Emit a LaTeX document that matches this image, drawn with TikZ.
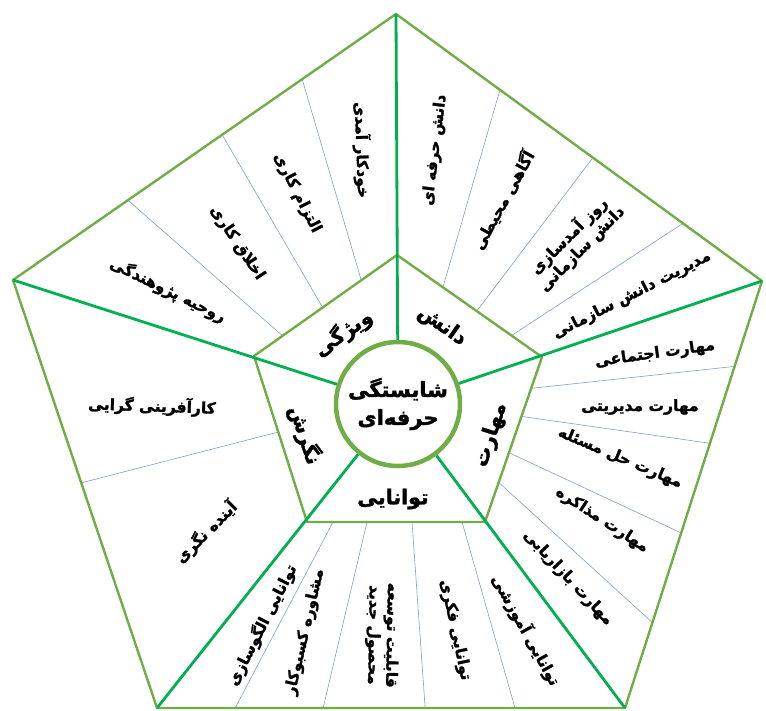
\documentclass[tikz,border=0pt]{standalone}
\usepackage{fontspec}
\usetikzlibrary{calc}
\TeXXeTstate=1
\newfontfamily\fafont[Script=Arabic, BoldFeatures={FakeBold=1.6}]{DejaVu Sans}
\newcommand{\fatext}[1]{\beginR #1\endR}
\definecolor{edgeGreen}{RGB}{112,173,71}
\definecolor{spokeGreen}{RGB}{0,176,80}
\definecolor{divBlue}{RGB}{125,160,205}
\tikzset{
    % Lines
    edge/.style={draw=edgeGreen, line width=2.4pt, line join=round},
    spoke/.style={draw=spokeGreen, line width=2.8pt},
    divider/.style={draw=divBlue, line width=0.6pt},
    % Text
    item/.style={font=\fafont\bfseries\fontsize{15.5}{18}\selectfont, inner sep=1pt, align=center},
    dim/.style={font=\fafont\bfseries\fontsize{20.5}{23}\selectfont, inner sep=1pt},
    core/.style={circle, draw=edgeGreen, line width=4.5pt, minimum size=124pt, inner sep=0pt,
                 align=center, font=\fafont\bfseries\fontsize{21}{28}\selectfont}
}
\begin{document}
\begin{tikzpicture}[x=1pt, y=-1pt]
\useasboundingbox (0,0) rectangle (766,710);

% Outer and inner pentagon corners
\coordinate (T) at (396,14);
\coordinate (R) at (762,281);
\coordinate (BR) at (625,708);
\coordinate (BL) at (157,708);
\coordinate (L) at (13,280);
\coordinate (IT) at (397,255);
\coordinate (IR) at (542,357);
\coordinate (IBR) at (485,522);
\coordinate (IBL) at (307,522);
\coordinate (IL) at (254,356);

% Dividers
\draw[divider] ($(L)!0.30!(T)$) -- ($(IL)!0.20!(IT)$);
\draw[divider] ($(L)!0.546!(T)$) -- ($(IL)!0.48!(IT)$);
\draw[divider] ($(L)!0.755!(T)$) -- ($(IL)!0.75!(IT)$);
\draw[divider] ($(T)!0.284!(R)$) -- ($(IT)!0.317!(IR)$);
\draw[divider] ($(T)!0.538!(R)$) -- ($(IT)!0.55!(IR)$);
\draw[divider] ($(T)!0.784!(R)$) -- ($(IT)!0.79!(IR)$);
\draw[divider] ($(R)!0.20!(BR)$) -- ($(IR)!0.19!(IBR)$);
\draw[divider] ($(R)!0.38!(BR)$) -- ($(IR)!0.36!(IBR)$);
\draw[divider] ($(R)!0.59!(BR)$) -- ($(IR)!0.58!(IBR)$);
\draw[divider] ($(R)!0.80!(BR)$) -- ($(IR)!0.76!(IBR)$);
\draw[divider] ($(BR)!0.235!(BL)$) -- ($(IBR)!0.129!(IBL)$);
\draw[divider] ($(BR)!0.427!(BL)$) -- ($(IBR)!0.41!(IBL)$);
\draw[divider] ($(BR)!0.645!(BL)$) -- ($(IBR)!0.663!(IBL)$);
\draw[divider] ($(BR)!0.833!(BL)$) -- ($(IBR)!0.854!(IBL)$);
\draw[divider] ($(L)!0.474!(BL)$) -- ($(IL)!0.458!(IBL)$);

% Pentagons
\draw[edge] (T) -- (R) -- (BR) -- (BL) -- (L) -- cycle;
\draw[edge] (IT) -- (IR) -- (IBR) -- (IBL) -- (IL) -- cycle;

% Core and spokes
\node[core] (core) at (398,404) {\fatext{شایستگی}\\\fatext{حرفه‌ای}};
\foreach \v in {T,R,BR,BL,L}
    \draw[spoke] (\v) -- (core);

% Dimensions
\node[dim, rotate=35] (trait) at (343,333) {\fatext{ویژگی}};
\node[dim, rotate=-35] (knowledge) at (442,326) {\fatext{دانش}};
\node[dim, rotate=72] (skill) at (491,435) {\fatext{مهارت}};
\node[dim] (ability) at (393,499) {\fatext{توانایی}};
\node[dim, rotate=-72] (attitude) at (305,435) {\fatext{نگرش}};

% Traits
\node[item, rotate=-88] (selfEff) at (362,150) {\fatext{خودکار آمدی}};
\node[item, rotate=-63] (commit) at (297,193) {\fatext{التزام کاری}};
\node[item, rotate=-56] (ethics) at (237,243) {\fatext{اخلاق کاری}};
\node[item, rotate=-26] (research) at (168,290) {\fatext{روحیه پژوهندگی}};

% Knowledge
\node[item, rotate=83] (profKnow) at (435,150) {\fatext{دانش حرفه ای}};
\node[item, rotate=61] (envAware) at (503,200) {\fatext{آگاهی محیطی}};
\node[item, rotate=45] (update) at (575,242) {\fatext{روز آمدسازی}\\\fatext{دانش سازمانی}};
\node[item, rotate=27] (kmgmt) at (632,295) {\fatext{مدیریت دانش سازمانی}};

% Skills
\node[item, rotate=8] (social) at (655,354) {\fatext{مهارت اجتماعی}};
\node[item] (managerial) at (640,407) {\fatext{مهارت مدیریتی}};
\node[item, rotate=-23] (problem) at (620,458) {\fatext{مهارت حل مسئله}};
\node[item, rotate=-33] (negot) at (602,520) {\fatext{مهارت مذاکره}};
\node[item, rotate=-47] (market) at (568,578) {\fatext{مهارت بازاریابی}};

% Abilities
\node[item, rotate=63] (modeling) at (262,625) {\fatext{توانایی الگوسازی}};
\node[item, rotate=77] (consult) at (305,632) {\fatext{مشاوره کسبوکار}};
\node[item, rotate=-91] (develop) at (382,635) {\fatext{قابلیت توسعه}\\\fatext{محصول جدید}};
\node[item, rotate=-78] (intellect) at (455,630) {\fatext{توانایی فکری}};
\node[item, rotate=-61] (training) at (526,630) {\fatext{توانایی آموزشی}};

% Attitude
\node[item, rotate=-2] (entrep) at (152,406) {\fatext{کارآفرینی گرایی}};
\node[item, rotate=45] (foresight) at (206,532) {\fatext{آینده نگری}};

\end{tikzpicture}
\end{document}
